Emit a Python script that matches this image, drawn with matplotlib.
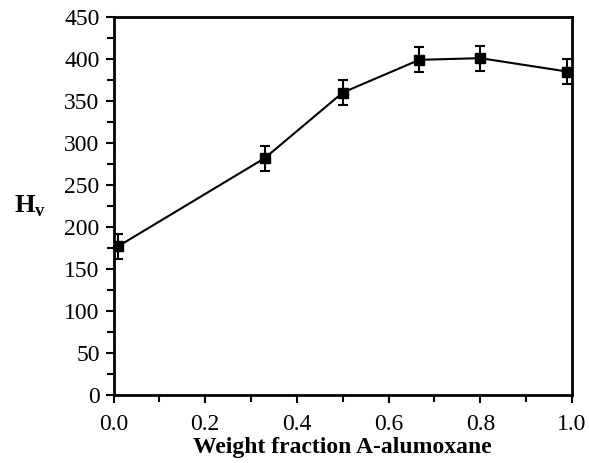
import matplotlib
matplotlib.use("Agg")
import matplotlib.pyplot as plt
from matplotlib.ticker import MultipleLocator

# data
frac = [0.01, 0.33, 0.5, 0.667, 0.8, 0.99]
hv = [177, 282, 360, 399, 401, 385]
err = [15, 15, 15, 15, 15, 15]

plt.rcParams['font.family'] = 'Liberation Serif'
plt.rcParams['mathtext.fontset'] = 'custom'
plt.rcParams['mathtext.rm'] = 'Liberation Serif'
plt.rcParams['mathtext.bf'] = 'Liberation Serif:bold'

fig = plt.figure(figsize=(5.89, 4.63), dpi=100)
ax = fig.add_axes([0.1927, 0.1469, 0.7784, 0.8164])

ax.errorbar(frac, hv, yerr=err, color='black', marker='s', markersize=7.5,
            linewidth=1.5, elinewidth=1.5, capsize=3.5, capthick=1.5)

ax.set_xlim(0, 1.0)
ax.set_ylim(0, 450)
ax.xaxis.set_major_locator(MultipleLocator(0.2))
ax.xaxis.set_minor_locator(MultipleLocator(0.1))
ax.yaxis.set_major_locator(MultipleLocator(50))
ax.yaxis.set_minor_locator(MultipleLocator(25))
ax.set_xticklabels([f"{v:.1f}" for v in ax.get_xticks()])

for s in ax.spines.values():
    s.set_linewidth(2)
ax.tick_params(which='both', direction='out', width=1.5, labelsize=17)
ax.tick_params(which='major', length=6)
ax.tick_params(which='minor', length=5)
ax.tick_params(axis='x', pad=8)
ax.tick_params(axis='y', pad=4)

ax.set_xlabel("Weight fraction A-alumoxane", fontsize=17, fontweight='bold', labelpad=1)
ax.set_ylabel(r"$\mathbf{H}_\mathbf{v}$", fontsize=19, rotation=0, labelpad=25, va='center')

fig.savefig("out.png", dpi=100)
